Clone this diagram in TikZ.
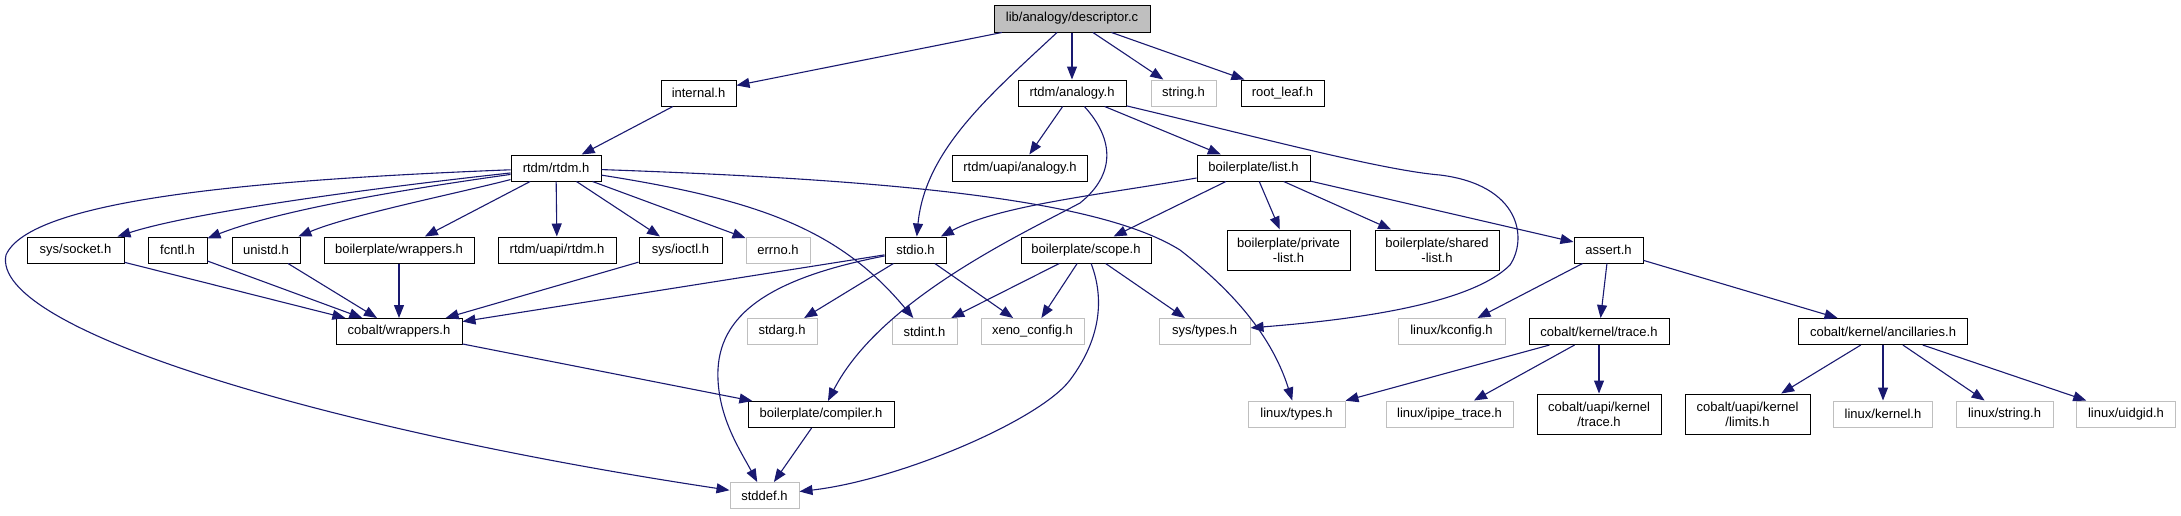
\documentclass[tikz,border=0pt]{standalone}
\usepackage{fontspec}
\setmainfont{Liberation Sans}
\usetikzlibrary{arrows.meta}
\definecolor{midnight}{HTML}{191970}
\definecolor{grey75}{HTML}{BFBFBF}
\begin{document}
\begin{tikzpicture}[x=1pt,y=-1pt,
 box/.style={draw=black, line width=1pt, fill=white, inner sep=0pt, minimum height=26pt, font=\fontsize{13}{15}\selectfont, align=center},
 gbox/.style={box, draw=grey75},
 rootbox/.style={box, fill=grey75},
 twoline/.style={minimum height=40pt},
 dep/.style={draw=midnight, line width=1.1pt, -{Triangle[length=13pt,width=10pt]}}]
\useasboundingbox (0,0) rectangle (2181,515);
% row 0
\node[rootbox, minimum width=156pt, minimum height=27pt] (desc) at (1072,18.5) {lib/analogy/descriptor.c};
% row 1
\node[box, minimum width=75pt] (internal) at (698.5,93) {internal.h};
\node[box, minimum width=108pt] (rtanalogy) at (1072,93) {rtdm/analogy.h};
\node[gbox, minimum width=65pt] (stringh) at (1183.5,93) {string.h};
\node[box, minimum width=83pt] (rootleaf) at (1282.5,93) {root\_leaf.h};
% row 2
\node[box, minimum width=90pt] (rtdm) at (556,168) {rtdm/rtdm.h};
\node[box, minimum width=135pt] (uapianalogy) at (1020,168) {rtdm/uapi/analogy.h};
\node[box, minimum width=113pt] (blist) at (1253.5,168) {boilerplate/list.h};
% row 3
\node[box, minimum width=97pt] (socket) at (75.5,250) {sys/socket.h};
\node[box, minimum width=59pt] (fcntl) at (177.5,250) {fcntl.h};
\node[box, minimum width=68pt] (unistd) at (266,250) {unistd.h};
\node[box, minimum width=150pt] (bwrappers) at (399,250) {boilerplate/wrappers.h};
\node[box, minimum width=118pt] (uapirtdm) at (557,250) {rtdm/uapi/rtdm.h};
\node[box, minimum width=83pt] (ioctl) at (680.5,250) {sys/ioctl.h};
\node[gbox, minimum width=64pt] (errno) at (778,250) {errno.h};
\node[box, minimum width=61pt] (stdio) at (915.5,250) {stdio.h};
\node[box, minimum width=130pt] (scope) at (1086,250) {boilerplate/scope.h};
\node[box, twoline, minimum width=123pt] (privlist) at (1288.5,250) {boilerplate/private\\-list.h};
\node[box, twoline, minimum width=124pt] (sharedlist) at (1437,250) {boilerplate/shared\\-list.h};
\node[box, minimum width=69pt] (assert) at (1608.5,250) {assert.h};
% row 4
\node[box, minimum width=126pt] (cwrappers) at (399,331.5) {cobalt/wrappers.h};
\node[gbox, minimum width=70pt] (stdarg) at (782,331.5) {stdarg.h};
\node[gbox, minimum width=65pt] (stdint) at (924.5,331.5) {stdint.h};
\node[gbox, minimum width=103pt] (xeno) at (1032.5,331.5) {xeno\_config.h};
\node[gbox, minimum width=91pt] (systypes) at (1204.5,331.5) {sys/types.h};
\node[gbox, minimum width=107pt] (kconfig) at (1451.5,331.5) {linux/kconfig.h};
\node[box, minimum width=140pt] (ktrace) at (1599,331.5) {cobalt/kernel/trace.h};
\node[box, minimum width=169pt] (ancill) at (1883,331.5) {cobalt/kernel/ancillaries.h};
% row 5
\node[box, minimum width=146pt] (compiler) at (821,414.5) {boilerplate/compiler.h};
\node[gbox, minimum width=97pt] (ltypes) at (1296.5,414) {linux/types.h};
\node[gbox, minimum width=127pt] (ipipe) at (1449.5,414) {linux/ipipe\_trace.h};
\node[box, twoline, minimum width=124pt] (uapitrace) at (1599,414) {cobalt/uapi/kernel\\/trace.h};
\node[box, twoline, minimum width=125pt] (limits) at (1747.5,414) {cobalt/uapi/kernel\\/limits.h};
\node[gbox, minimum width=99pt] (lkernel) at (1883,414) {linux/kernel.h};
\node[gbox, minimum width=97pt] (lstring) at (2004.5,414) {linux/string.h};
\node[gbox, minimum width=99pt] (uidgid) at (2126,414) {linux/uidgid.h};
% row 6
\node[gbox, minimum width=69pt] (stddef) at (764.5,495.5) {stddef.h};

% edges from descriptor.c
\draw[dep] (desc) -- (internal);
\draw[dep] (desc) -- (rtanalogy);
\draw[dep] (desc) -- (stringh);
\draw[dep] (desc) -- (rootleaf);
\draw[dep] (desc) .. controls (990,95) and (925,150) .. (stdio);
% internal.h
\draw[dep] (internal) -- (rtdm);
% rtdm/analogy.h
\draw[dep] (rtanalogy) -- (uapianalogy);
\draw[dep] (rtanalogy) -- (blist);
\draw[dep] (rtanalogy) .. controls (1115,140) and (1115,175) .. (1080,203)
   .. controls (1020,235) and (880,300) .. (compiler);
\draw[dep] (rtanalogy) .. controls (1250,135) and (1380,170) .. (1440,175)
   .. controls (1520,185) and (1528,238) .. (1510,265)
   .. controls (1470,305) and (1350,320) .. (systypes);
% rtdm/rtdm.h
\draw[dep] (rtdm) .. controls (400,185) and (200,210) .. (socket);
\draw[dep] (rtdm) .. controls (400,190) and (280,210) .. (fcntl);
\draw[dep] (rtdm) .. controls (450,195) and (350,215) .. (unistd);
\draw[dep] (rtdm) -- (bwrappers);
\draw[dep] (rtdm) -- (uapirtdm);
\draw[dep] (rtdm) -- (ioctl);
\draw[dep] (rtdm) -- (errno);
\draw[dep] (rtdm) .. controls (760,200) and (840,230) .. (stdint);
\draw[dep] (rtdm) .. controls (900,180) and (1100,200) .. (1180,250)
   .. controls (1225,285) and (1270,330) .. (ltypes);
\draw[dep] (rtdm) .. controls (250,180) and (30,200) .. (6,255)
   .. controls (-10,330) and (330,430) .. (stddef);
% boilerplate/list.h
\draw[dep] (blist) .. controls (1100,195) and (1000,205) .. (stdio);
\draw[dep] (blist) -- (scope);
\draw[dep] (blist) -- (privlist);
\draw[dep] (blist) -- (sharedlist);
\draw[dep] (blist) -- (assert);
% to cobalt/wrappers.h
\draw[dep] (socket) -- (cwrappers);
\draw[dep] (fcntl) -- (cwrappers);
\draw[dep] (unistd) -- (cwrappers);
\draw[dep] (bwrappers) -- (cwrappers);
\draw[dep] (ioctl) -- (cwrappers);
\draw[dep] (stdio) -- (cwrappers);
% stdio.h
\draw[dep] (stdio) -- (stdarg);
\draw[dep] (stdio) -- (xeno);
\draw[dep] (stdio) .. controls (760,280) and (715,320) .. (718,380)
   .. controls (720,420) and (740,450) .. (stddef);
% cobalt/wrappers.h, compiler
\draw[dep] (cwrappers) -- (compiler);
\draw[dep] (compiler) -- (stddef);
% boilerplate/scope.h
\draw[dep] (scope) -- (stdint);
\draw[dep] (scope) -- (xeno);
\draw[dep] (scope) -- (systypes);
\draw[dep] (scope) .. controls (1105,300) and (1100,340) .. (1070,380)
   .. controls (1040,420) and (900,480) .. (stddef);
% assert.h
\draw[dep] (assert) -- (kconfig);
\draw[dep] (assert) -- (ktrace);
\draw[dep] (assert) -- (ancill);
% cobalt/kernel/trace.h
\draw[dep] (ktrace) -- (ltypes);
\draw[dep] (ktrace) -- (ipipe);
\draw[dep] (ktrace) -- (uapitrace);
% cobalt/kernel/ancillaries.h
\draw[dep] (ancill) -- (limits);
\draw[dep] (ancill) -- (lkernel);
\draw[dep] (ancill) -- (lstring);
\draw[dep] (ancill) -- (uidgid);
\end{tikzpicture}
\end{document}
